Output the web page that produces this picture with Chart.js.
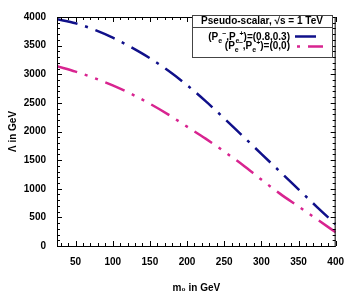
<!DOCTYPE html>
<html><head><meta charset="utf-8">
<script src="https://cdn.jsdelivr.net/npm/chart.js@4"></script>
<style>html,body{margin:0;padding:0;background:#fff}#c{display:block}</style>
</head><body>
<canvas id="c" width="354" height="300"></canvas>
<script>
const massValues = [25, 50, 75, 100, 125, 150, 175, 200, 225, 250, 275, 300, 325, 350, 375, 400];
const lambdaPolarized = [3960, 3890, 3780, 3640, 3470, 3280, 3060, 2810, 2530, 2230, 1920, 1610, 1300, 990, 680, 380];
const lambdaUnpolarized = [3140, 3045, 2935, 2805, 2655, 2485, 2295, 2085, 1875, 1650, 1415, 1160, 915, 690, 465, 240];
const xTickLabels = [50, 100, 150, 200, 250, 300, 350, 400];
const yTickLabels = [0, 500, 1000, 1500, 2000, 2500, 3000, 3500, 4000];
const legendTitle = 'Pseudo-scalar, \u221As = 1 TeV';
const seriesValues = ['(0.8,0.3)', '(0,0)'];

const BLUE = '#10108a';
const PINK = '#d82490';
const DASH_BLUE = [21, 8, 3, 8];
const DASH_PINK = [21, 8, 3, 8, 3, 8];
const FONT = '"Liberation Sans", Arial, sans-serif';

function toXY(xs, ys) { return xs.map((x, i) => ({x: x, y: ys[i]})); }

function drawRich(ctx, parts, xRight, y, size) {
  const big = 'bold ' + size + 'px ' + FONT;
  const small = 'bold ' + (size * 0.7) + 'px ' + FONT;
  let w = 0;
  parts.forEach(p => { ctx.font = p.s ? small : big; p.w = ctx.measureText(p.t).width; w += p.w; });
  let x = xRight - w;
  ctx.textBaseline = 'alphabetic';
  ctx.textAlign = 'left';
  parts.forEach(p => {
    ctx.font = p.s ? small : big;
    const dy = p.s === 'sub' ? size * 0.3 : (p.s === 'sup' ? -size * 0.4 : 0);
    ctx.fillText(p.t, x, y + dy);
    x += p.w;
  });
}
function polParts(val) {
  return [{t: '(P'}, {t: 'e', s: 'sub'}, {t: '\u2212', s: 'sup'}, {t: ',P'}, {t: 'e', s: 'sub'}, {t: '+', s: 'sup'}, {t: ')=' + val}];
}

const framePlugin = {
  id: 'frame',
  afterDraw(chart) {
    const ctx = chart.ctx, a = chart.chartArea;
    const xs = chart.scales.x, ys = chart.scales.y;
    ctx.save();
    ctx.strokeStyle = '#000';
    ctx.lineWidth = 1;
    ctx.strokeRect(a.left + 0.5, a.top + 0.5, a.right - a.left - 1, a.bottom - a.top);
    ctx.beginPath();
    for (let v = 30; v <= 400; v += 10) {
      const px = Math.round(xs.getPixelForValue(v)) + 0.5;
      const len = v % 50 === 0 ? 5 : 3;
      ctx.moveTo(px, a.bottom); ctx.lineTo(px, a.bottom - len);
      ctx.moveTo(px, a.top); ctx.lineTo(px, a.top + len);
    }
    for (let v = 0; v <= 4000; v += 100) {
      const py = Math.round(ys.getPixelForValue(v)) + 0.5;
      const len = v % 500 === 0 ? 5 : 3;
      ctx.moveTo(a.left, py); ctx.lineTo(a.left + len, py);
      ctx.moveTo(a.right, py); ctx.lineTo(a.right - len, py);
    }
    ctx.stroke();

    // legend box
    const bx = 192, by = 15, bw = 140, bh = 42;
    ctx.fillStyle = '#fff';
    ctx.fillRect(bx, by, bw, bh);
    ctx.strokeStyle = '#444';
    ctx.strokeRect(bx + 0.5, by + 0.5, bw, bh);
    ctx.beginPath(); ctx.moveTo(bx, by + 12.5); ctx.lineTo(bx + bw, by + 12.5); ctx.stroke();
    ctx.fillStyle = '#000';
    ctx.font = 'bold 10px ' + FONT;
    ctx.textAlign = 'center';
    ctx.textBaseline = 'middle';
    ctx.fillText(legendTitle, bx + bw / 2, by + 6.5);
    drawRich(ctx, polParts(seriesValues[0]), 290, 40, 10);
    drawRich(ctx, polParts(seriesValues[1]), 290, 49, 10);
    ctx.lineWidth = 2.5;
    ctx.strokeStyle = BLUE;
    ctx.setLineDash(DASH_BLUE);
    ctx.beginPath(); ctx.moveTo(295, 36.5); ctx.lineTo(317, 36.5); ctx.stroke();
    ctx.strokeStyle = PINK;
    ctx.setLineDash(DASH_PINK);
    ctx.lineDashOffset = 40;
    ctx.beginPath(); ctx.moveTo(297, 46.5); ctx.lineTo(323, 46.5); ctx.stroke();
    ctx.restore();
  }
};

new Chart(document.getElementById('c'), {
  type: 'line',
  data: {
    datasets: [
      {data: toXY(massValues, lambdaPolarized), borderColor: BLUE, borderWidth: 2.5, borderDash: DASH_BLUE, pointRadius: 0, cubicInterpolationMode: 'monotone', fill: false},
      {data: toXY(massValues, lambdaUnpolarized), borderColor: PINK, borderWidth: 2.5, borderDash: DASH_PINK, pointRadius: 0, cubicInterpolationMode: 'monotone', fill: false}
    ]
  },
  options: {
    responsive: false,
    animation: false,
    devicePixelRatio: 1,
    layout: {padding: {left: 0, top: 13, right: 18, bottom: 0}},
    plugins: {legend: {display: false}, tooltip: {enabled: false}},
    scales: {
      x: {
        type: 'linear', min: 25, max: 400,
        grid: {display: false, drawTicks: false},
        border: {display: false},
        afterBuildTicks: s => { s.ticks = xTickLabels.map(v => ({value: v})); },
        afterFit: s => { s.height = 54; },
        ticks: {color: '#000', font: {family: FONT, size: 10, weight: 'bold'}, padding: 10, maxRotation: 0, autoSkip: false, callback: v => String(v)},
        title: {display: true, text: 'm\u2080 in GeV', color: '#000', font: {family: FONT, size: 10, weight: 'bold'}, padding: {top: 0, bottom: 6}}
      },
      y: {
        type: 'linear', min: 0, max: 4000,
        grid: {display: false, drawTicks: false},
        border: {display: false},
        afterBuildTicks: s => { s.ticks = yTickLabels.map(v => ({value: v})); },
        afterFit: s => { s.width = 57; },
        ticks: {color: '#000', font: {family: FONT, size: 10, weight: 'bold'}, padding: 11, autoSkip: false, callback: v => String(v)},
        title: {display: true, text: '\u039B in GeV', color: '#000', font: {family: FONT, size: 10, weight: 'bold'}, padding: {top: 7, bottom: 0}}
      }
    }
  },
  plugins: [framePlugin]
});
</script>
</body></html>
